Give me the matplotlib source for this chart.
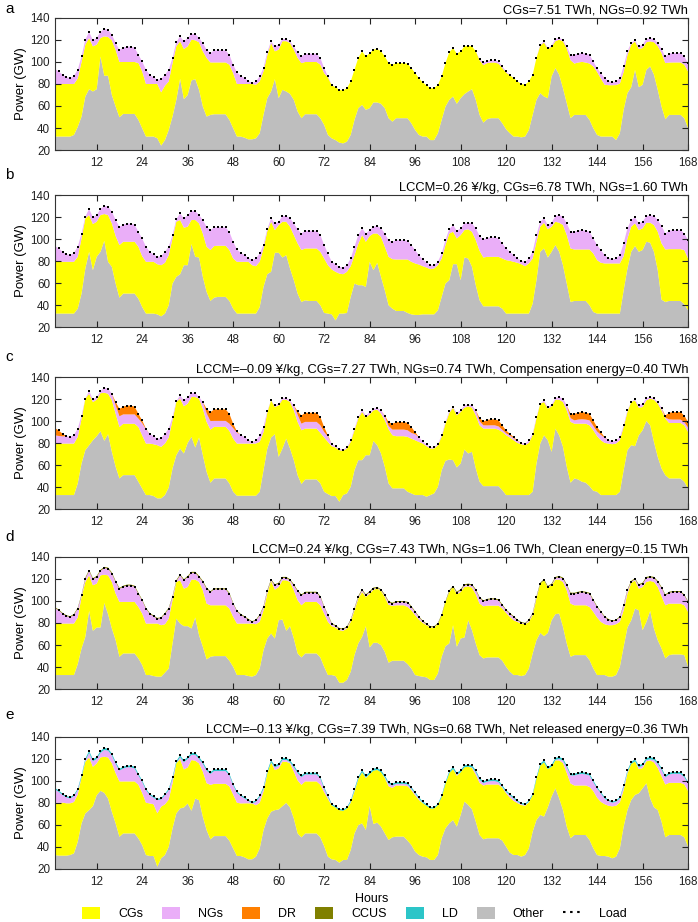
import matplotlib
matplotlib.use("Agg")
import matplotlib.pyplot as plt
from matplotlib.patches import Patch
from matplotlib.lines import Line2D
import numpy as np

plt.rcParams["font.family"] = ["Liberation Sans", "DejaVu Sans"]

hours = np.arange(1, 169)

# system load (GW), one row per day
load = [
    93.6, 91.4, 88.4, 86.3, 85.3, 87.5, 93.0, 105.0, 120.3, 127.3, 119.7, 121.8, 127.3, 130.0, 129.4, 124.9, 117.3, 111.0, 113.0, 114.0, 114.0, 113.0, 106.6, 100.5,
    93.0, 88.4, 86.0, 83.8, 84.4, 88.4, 93.0, 103.6, 118.0, 123.3, 118.8, 121.8, 125.5, 125.5, 121.8, 117.3, 111.0, 108.0, 110.6, 110.6, 110.6, 110.6, 106.6, 97.5,
    90.5, 87.5, 85.3, 83.0, 80.8, 82.3, 86.9, 94.5, 109.0, 118.8, 114.2, 115.7, 120.9, 120.9, 118.8, 114.2, 108.8, 105.0, 107.5, 107.5, 107.5, 107.5, 103.6, 94.5,
    86.9, 79.3, 77.1, 74.7, 74.1, 76.2, 82.3, 93.0, 103.6, 109.7, 105.0, 108.0, 111.2, 111.8, 109.7, 105.0, 99.0, 97.5, 99.0, 99.0, 99.0, 98.4, 94.5, 90.0,
    85.3, 81.4, 78.7, 76.2, 76.2, 79.3, 86.9, 99.0, 108.8, 112.7, 107.5, 109.7, 114.2, 114.8, 114.2, 109.7, 102.7, 99.6, 101.0, 101.5, 101.5, 100.5, 96.0, 91.4,
    88.4, 85.3, 82.3, 80.2, 79.3, 82.3, 88.4, 103.6, 115.7, 118.8, 112.7, 114.8, 120.9, 121.8, 120.3, 114.2, 106.6, 106.6, 107.5, 108.1, 107.5, 106.6, 100.5, 94.5,
    89.9, 85.3, 82.9, 81.4, 82.3, 85.3, 96.0, 109.7, 117.3, 119.7, 114.2, 115.7, 120.9, 121.5, 120.9, 117.3, 111.8, 105.0, 107.5, 108.1, 108.1, 108.1, 105.0, 99.0,
]

# panel a
other_a = [
    32.2, 32.2, 32.2, 32.2, 32.2, 33.7, 41.0, 50.4, 68.6, 75.3, 73.2, 75.3, 105.0, 87.5, 87.5, 70.0, 59.5, 49.8, 52.8, 52.8, 52.8, 52.8, 47.4, 39.8,
    32.2, 32.2, 32.2, 30.6, 24.0, 29.0, 38.2, 50.4, 65.6, 84.7, 66.2, 70.0, 83.2, 84.4, 74.7, 59.5, 50.4, 51.9, 52.5, 52.5, 52.5, 52.5, 47.4, 39.8,
    32.2, 32.2, 31.2, 29.7, 29.7, 30.6, 35.2, 51.9, 67.1, 73.2, 84.4, 67.1, 74.7, 73.2, 71.0, 65.6, 55.0, 48.9, 52.5, 52.5, 52.5, 52.5, 48.9, 42.8,
    33.7, 30.6, 29.0, 26.7, 26.0, 27.6, 33.7, 47.4, 58.0, 61.0, 56.5, 58.0, 63.2, 63.2, 62.0, 58.0, 48.9, 45.8, 48.9, 48.9, 48.9, 48.9, 44.3, 38.2,
    33.7, 32.2, 32.2, 29.0, 29.0, 35.2, 47.4, 59.5, 65.6, 68.6, 62.0, 67.1, 70.8, 73.2, 75.3, 65.6, 51.9, 44.9, 48.0, 48.9, 48.9, 48.9, 44.3, 38.8,
    35.2, 32.2, 32.2, 31.5, 32.2, 38.2, 51.9, 65.6, 71.7, 68.6, 67.1, 86.9, 94.5, 88.4, 76.2, 62.6, 48.9, 51.9, 51.9, 51.9, 51.9, 47.4, 39.8, 33.7,
    32.2, 32.2, 32.2, 32.2, 29.0, 35.2, 56.5, 71.7, 77.1, 92.9, 77.1, 79.3, 92.9, 96.0, 88.4, 74.7, 59.5, 48.0, 51.9, 51.9, 51.9, 51.9, 48.9, 39.8,
]
ngs_a = [
    13.6, 11.4, 8.4, 6.3, 5.3, 7.5, 8.0, 5.0, 4.6, 5.5, 5.5, 6.0, 5.5, 6.7, 6.7, 5.2, 6.3, 11.0, 13.0, 14.0, 14.0, 13.0, 7.6, 9.0,
    13.0, 8.4, 6.0, 3.8, 12.0, 10.0, 10.7, 4.6, 3.8, 4.5, 7.0, 7.6, 5.2, 5.8, 3.9, 7.6, 7.4, 8.4, 11.0, 11.0, 11.0, 11.0, 9.0, 7.6,
    10.5, 7.5, 5.3, 3.0, 0.8, 3.0, 4.6, 3.0, 3.0, 1.5, 4.5, 4.5, 2.0, 2.0, 1.5, 3.0, 5.0, 6.0, 7.5, 7.5, 7.5, 7.5, 6.0, 4.6,
    1.0, 0.5, 0.0, 0.0, 0.0, 0.0, 0.0, 0.0, 0.0, 0.0, 0.0, 0.0, 0.0, 0.0, 0.0, 0.0, 0.0, 0.0, 0.0, 0.0, 0.0, 0.0, 0.0, 0.0,
    0.0, 0.0, 0.0, 0.0, 0.0, 0.0, 0.0, 0.0, 0.0, 0.0, 0.0, 0.0, 0.0, 0.0, 0.0, 0.0, 1.0, 2.5, 2.0, 2.0, 2.0, 2.0, 1.5, 1.0,
    0.5, 0.0, 0.0, 0.0, 0.0, 0.0, 0.0, 0.0, 1.0, 1.0, 1.0, 1.0, 2.0, 1.5, 1.5, 2.0, 5.0, 8.0, 8.0, 8.0, 8.0, 8.0, 4.5, 3.5,
    5.0, 6.0, 4.0, 2.5, 3.3, 5.0, 5.0, 3.5, 1.6, 1.0, 2.4, 3.0, 3.0, 2.7, 3.0, 3.0, 3.7, 6.0, 8.0, 8.5, 8.5, 8.5, 7.5, 7.6,
]

# panel b
other_b = [
    32.2, 32.2, 32.2, 32.2, 32.2, 32.2, 36.7, 50.4, 73.2, 88.4, 71.7, 83.8, 88.4, 98.4, 79.3, 74.7, 59.5, 46.7, 50.4, 50.4, 50.4, 50.4, 45.8, 38.2,
    32.2, 32.2, 32.2, 31.5, 29.7, 32.2, 39.8, 59.5, 65.6, 68.0, 76.2, 76.2, 95.4, 83.8, 83.2, 65.6, 51.9, 43.7, 46.7, 47.4, 47.4, 47.4, 43.7, 36.7,
    32.2, 32.2, 32.2, 32.2, 32.2, 32.2, 38.2, 56.5, 68.0, 70.2, 87.5, 87.5, 83.2, 85.3, 73.2, 62.6, 50.4, 42.8, 44.3, 43.7, 43.7, 43.7, 39.8, 32.8,
    32.2, 31.5, 26.0, 32.2, 32.2, 32.8, 47.4, 59.5, 58.0, 58.0, 56.5, 79.3, 71.7, 78.4, 65.6, 53.4, 39.8, 36.7, 34.6, 34.6, 34.6, 32.8, 31.5, 31.0,
    31.0, 31.5, 31.5, 31.5, 31.5, 35.2, 47.4, 59.5, 62.6, 77.1, 77.1, 62.6, 83.2, 82.3, 74.7, 58.0, 44.3, 38.8, 38.8, 38.8, 38.8, 38.8, 36.7, 32.2,
    32.2, 32.2, 32.2, 32.2, 32.2, 32.2, 41.3, 62.6, 88.4, 91.4, 83.2, 88.4, 94.5, 88.4, 76.2, 59.5, 42.8, 43.7, 43.7, 43.7, 43.7, 39.8, 33.7, 32.2,
    32.2, 32.2, 32.2, 32.2, 32.2, 32.2, 53.4, 73.2, 88.4, 93.6, 88.4, 90.0, 97.5, 96.6, 88.4, 71.7, 44.9, 42.8, 43.7, 43.7, 43.7, 43.7, 40.7, 35.2,
]
ngs_b = [
    14.3, 12.1, 9.1, 7.0, 6.0, 8.2, 9.2, 4.5, 1.5, 5.5, 6.1, 6.1, 5.5, 7.3, 7.6, 10.7, 14.6, 16.5, 15.5, 16.5, 16.5, 15.5, 13.6, 16.1,
    13.7, 9.1, 6.7, 6.7, 8.2, 10.0, 7.7, 3.1, 2.3, 6.0, 8.5, 10.6, 8.2, 8.2, 7.6, 12.3, 18.0, 18.0, 17.0, 16.7, 16.7, 16.7, 16.6, 15.2,
    11.2, 8.2, 6.0, 3.7, 4.6, 7.0, 7.6, 3.1, 2.0, 3.1, 6.1, 3.0, 5.2, 5.2, 7.6, 10.6, 12.8, 15.0, 16.1, 16.1, 16.1, 16.1, 15.2, 12.2,
    10.7, 7.0, 6.9, 6.1, 6.1, 6.0, 7.0, 7.7, 8.0, 6.1, 7.5, 5.3, 6.2, 6.8, 7.7, 12.0, 15.2, 15.8, 17.6, 17.6, 17.6, 17.0, 15.2, 12.2,
    8.5, 6.1, 4.6, 3.6, 3.0, 3.1, 4.6, 4.5, 3.8, 6.1, 7.0, 6.1, 6.1, 6.0, 7.6, 10.7, 13.4, 16.4, 17.2, 17.7, 17.7, 16.7, 13.7, 10.6,
    8.2, 6.0, 3.9, 3.1, 4.0, 4.5, 6.1, 6.1, 4.5, 4.0, 3.9, 3.6, 5.2, 7.0, 7.6, 10.6, 15.2, 16.1, 17.0, 17.6, 17.0, 16.1, 13.6, 13.7,
    11.5, 7.5, 5.1, 3.6, 4.5, 7.5, 11.6, 9.2, 6.1, 5.5, 6.1, 6.0, 6.1, 6.7, 8.2, 10.7, 15.8, 14.5, 16.7, 17.3, 17.3, 17.3, 15.1, 16.7,
]

# panel c
other_c = [
    32.7, 32.7, 32.7, 32.7, 32.7, 32.7, 43.3, 61.4, 73.5, 78.0, 82.5, 86.2, 90.7, 82.0, 88.0, 72.0, 58.4, 47.8, 50.8, 50.8, 50.8, 50.8, 44.8, 38.7,
    32.7, 32.7, 31.8, 29.7, 29.7, 32.7, 39.6, 56.9, 69.0, 75.0, 70.5, 80.1, 85.6, 75.9, 85.0, 69.0, 53.8, 43.9, 47.8, 47.8, 47.8, 47.8, 43.3, 35.7,
    32.1, 32.1, 32.1, 32.1, 32.1, 32.1, 35.7, 55.3, 75.0, 85.0, 88.0, 67.4, 75.0, 84.0, 75.0, 64.4, 50.8, 42.7, 46.9, 46.9, 46.9, 46.9, 43.3, 35.7,
    33.6, 31.8, 31.8, 26.6, 32.7, 34.2, 40.2, 55.3, 64.4, 64.4, 68.9, 68.9, 81.9, 78.0, 70.5, 58.4, 43.3, 38.8, 38.8, 38.8, 38.8, 35.7, 34.2, 32.7,
    32.7, 32.7, 31.2, 32.7, 34.2, 40.2, 55.3, 63.8, 65.0, 64.4, 57.8, 61.4, 74.1, 70.5, 72.0, 56.9, 44.8, 40.8, 40.8, 40.8, 40.8, 40.8, 37.2, 32.7,
    32.7, 32.7, 32.7, 32.7, 32.7, 32.7, 35.7, 61.4, 79.5, 87.0, 82.5, 72.0, 93.1, 87.0, 76.5, 58.4, 43.9, 47.8, 46.9, 44.8, 43.9, 40.8, 36.6, 35.7,
    32.7, 32.7, 32.7, 32.7, 32.7, 35.7, 55.3, 73.5, 78.0, 77.1, 87.0, 91.6, 100.0, 96.1, 81.0, 67.4, 56.9, 50.8, 47.8, 47.8, 47.8, 47.8, 44.8, 38.7,
]
ngs_c = [
    7.5, 7.0, 6.5, 6.8, 5.8, 8.0, 7.4, 3.0, 0.0, 2.5, 2.4, 2.4, 2.0, 4.3, 4.6, 6.0, 7.6, 9.7, 8.5, 8.5, 8.5, 8.5, 7.6, 11.0,
    13.0, 8.9, 7.1, 5.8, 7.9, 8.9, 8.0, 2.9, 0.7, 3.0, 5.4, 6.0, 3.7, 3.7, 1.5, 6.1, 7.8, 7.8, 5.4, 5.4, 5.4, 5.4, 6.6, 9.5,
    10.0, 8.0, 5.8, 3.5, 1.3, 2.8, 5.9, 4.5, 1.3, 0.0, 1.5, 1.4, 1.5, 1.5, 1.5, 4.5, 6.6, 6.0, 6.1, 6.1, 6.1, 6.1, 6.9, 5.0,
    4.9, 2.2, 1.2, 1.2, 1.2, 1.2, 1.3, 1.4, 1.4, 1.5, 1.9, 1.9, 1.5, 1.5, 3.0, 3.8, 3.0, 5.1, 6.0, 6.0, 6.0, 6.0, 5.2, 5.5,
    4.3, 1.9, 1.6, 1.2, 1.2, 1.3, 1.3, 1.4, 1.5, 0.6, 2.3, 1.5, 2.1, 1.4, 2.1, 4.5, 3.6, 3.0, 2.9, 3.0, 3.0, 3.0, 1.9, 1.8,
    1.9, 1.8, 1.7, 1.3, 1.3, 2.2, 1.3, 1.4, 0.0, 1.5, 1.5, 1.4, 1.5, 2.4, 3.0, 4.5, 3.4, 3.0, 3.7, 4.0, 3.7, 4.5, 3.9, 4.3,
    4.9, 4.7, 3.4, 2.5, 2.8, 2.8, 1.4, 1.5, 0.0, 0.9, 2.1, 3.0, 2.1, 1.2, 1.5, 1.5, 2.1, 0.8, 3.3, 3.1, 3.1, 3.1, 2.9, 3.9,
]
dr_c = [
    6.6, 5.0, 2.4, 0, 0, 0, 0, 0, 0, 0, 0, 0, 0, 0, 0, 0, 3.0, 6.7, 7.0, 8.0, 8.0, 7.0, 4.4, 2.5,
    0.5, 0, 0, 0, 0, 0, 0, 0, 0, 0, 0, 0, 0, 0, 0, 0, 4.0, 8.0, 10.5, 10.5, 10.5, 10.5, 9.0, 4.0,
    1.0, 0, 0, 0, 0, 0, 0, 0, 0, 0, 0, 0, 0, 0, 0, 0, 3.0, 7.4, 8.3, 8.3, 8.3, 8.3, 7.5, 4.5,
    1.0, 0, 0, 0, 0, 0, 0, 0, 0, 0, 0, 0, 0, 0, 0, 0.5, 3.5, 5.3, 6.8, 6.8, 6.8, 6.8, 5.3, 2.0,
    0, 0, 0, 0, 0, 0, 0, 0, 0, 0, 0, 0, 0, 0, 0, 0, 3.0, 3.5, 5.0, 5.4, 5.4, 5.4, 4.0, 2.5,
    1.5, 1.0, 0.5, 0, 0, 0, 0, 0, 0, 0, 0, 0, 0, 0, 0, 0, 4.0, 6.0, 6.2, 6.5, 6.2, 6.0, 5.0, 4.0,
    2.5, 0.5, 0, 0, 0, 0, 0, 0, 0, 0, 0, 0, 0, 0, 0, 0, 0, 2.0, 6.0, 6.8, 6.8, 6.8, 6.0, 5.0,
]

# panel d
other_d = [
    32.7, 32.7, 32.7, 32.7, 32.7, 32.7, 42.7, 56.9, 67.4, 91.0, 72.9, 75.9, 75.9, 98.2, 88.0, 75.0, 64.4, 49.3, 52.3, 52.3, 52.3, 52.3, 47.8, 41.8,
    32.7, 32.7, 31.8, 31.2, 31.2, 34.8, 38.7, 61.4, 84.0, 79.5, 77.1, 77.1, 75.0, 85.0, 68.9, 58.4, 46.9, 49.3, 49.9, 49.9, 49.9, 49.9, 45.7, 40.2,
    32.7, 32.7, 32.7, 31.8, 31.2, 32.7, 38.7, 55.3, 65.9, 70.5, 65.9, 82.5, 83.1, 72.9, 77.1, 65.9, 52.3, 48.7, 52.3, 52.3, 52.3, 52.3, 48.7, 40.2,
    32.7, 32.7, 31.8, 25.7, 25.7, 28.2, 35.7, 50.8, 61.4, 67.4, 77.1, 57.8, 62.0, 62.0, 59.9, 53.8, 43.9, 45.7, 45.7, 45.7, 45.7, 42.7, 38.7, 32.7,
    31.8, 31.2, 30.6, 28.2, 28.2, 34.2, 49.3, 59.0, 61.4, 78.0, 58.4, 65.9, 66.8, 82.5, 73.5, 61.4, 50.8, 47.8, 48.7, 48.7, 48.7, 48.7, 45.7, 40.2,
    35.7, 32.7, 32.7, 31.8, 32.7, 38.7, 52.3, 64.4, 71.0, 68.0, 71.0, 82.5, 88.0, 88.6, 76.5, 61.4, 49.3, 50.8, 50.8, 50.8, 50.8, 46.3, 38.7, 32.7,
    32.7, 32.7, 31.2, 31.2, 32.7, 40.2, 58.4, 75.9, 82.5, 93.1, 91.6, 73.5, 81.0, 91.0, 75.0, 64.4, 56.9, 47.8, 50.8, 51.4, 51.4, 51.4, 50.8, 40.2,
]
ngs_d = [
    14.1, 11.9, 8.9, 6.8, 5.8, 8.0, 8.0, 1.3, 3.0, 4.0, 5.4, 6.0, 4.0, 6.1, 6.1, 7.6, 10.6, 11.8, 13.8, 14.8, 14.8, 13.8, 12.0, 11.9,
    13.5, 8.9, 6.5, 4.3, 6.4, 9.5, 9.0, 2.9, 0.7, 4.5, 7.6, 9.1, 6.1, 6.1, 4.5, 7.6, 13.4, 11.9, 14.5, 14.5, 14.5, 14.5, 13.5, 11.9,
    11.0, 8.0, 5.8, 3.5, 1.3, 3.4, 5.9, 2.9, 2.3, 0.6, 3.9, 3.0, 2.1, 2.1, 1.5, 4.5, 8.1, 8.9, 8.3, 8.3, 8.3, 8.3, 7.5, 5.9,
    5.9, 2.2, 1.2, 1.2, 1.2, 1.2, 1.3, 1.4, 1.4, 1.5, 1.3, 1.3, 0.9, 0.6, 0.6, 1.3, 2.5, 2.0, 2.9, 2.9, 2.9, 3.8, 2.9, 2.9,
    2.2, 1.3, 0.7, 0.3, 0.3, 0.4, 0.0, 0.0, 0.6, 0.0, 1.4, 1.5, 1.5, 1.4, 2.1, 3.6, 5.1, 4.4, 5.2, 5.7, 5.7, 4.7, 2.9, 2.2,
    2.8, 2.8, 1.3, 0.7, 0.4, 1.3, 1.3, 1.4, 0.0, 0.0, 0.6, 0.5, 1.5, 2.4, 3.0, 4.5, 9.0, 10.5, 11.4, 12.0, 11.4, 12.0, 10.4, 9.5,
    8.9, 6.4, 4.9, 3.4, 3.4, 4.3, 4.4, 3.0, 0.9, 0.9, 3.0, 3.0, 3.6, 3.3, 3.6, 4.6, 7.5, 8.9, 9.9, 10.5, 10.5, 10.5, 8.9, 8.9,
]
ccus_d = [
    0.8, 0.8, 0.8, 0.8, 0.8, 0.8, 0.9, 0.9, 1.0, 1.0, 1.0, 1.0, 1.0, 1.0, 1.0, 1.0, 1.0, 0.9, 0.9, 0.9, 0.9, 0.9, 0.9, 0.8,
    0.8, 0.8, 0.8, 0.8, 0.8, 0.8, 0.9, 0.9, 1.0, 1.0, 1.0, 1.0, 1.0, 1.0, 1.0, 1.0, 1.0, 0.9, 0.9, 0.9, 0.9, 0.9, 0.9, 0.8,
    0.8, 0.8, 0.8, 0.8, 0.8, 0.8, 0.9, 0.9, 1.0, 1.0, 1.0, 1.0, 1.0, 1.0, 1.0, 1.0, 1.0, 0.9, 0.9, 0.9, 0.9, 0.9, 0.9, 0.8,
    0.8, 0.8, 0.8, 0.8, 0.8, 0.8, 0.9, 0.9, 1.0, 1.0, 1.0, 1.0, 1.0, 1.0, 1.0, 1.0, 1.0, 0.9, 0.9, 0.9, 0.9, 0.9, 0.9, 0.8,
    0.8, 0.8, 0.8, 0.8, 0.8, 0.8, 0.9, 0.9, 1.0, 1.0, 1.0, 1.0, 1.0, 1.0, 1.0, 1.0, 1.0, 0.9, 0.9, 0.9, 0.9, 0.9, 0.9, 0.8,
    0.8, 0.8, 0.8, 0.8, 0.8, 0.8, 0.9, 0.9, 1.0, 1.0, 1.0, 1.0, 1.0, 1.0, 1.0, 1.0, 1.0, 0.9, 0.9, 0.9, 0.9, 0.9, 0.9, 0.8,
    0.8, 0.8, 0.8, 0.8, 0.8, 0.8, 0.9, 0.9, 1.0, 1.0, 1.0, 1.0, 1.0, 1.0, 1.0, 1.0, 1.0, 0.9, 0.9, 0.9, 0.9, 0.9, 0.9, 0.8,
]

# panel e
other_e = [
    32.7, 32.1, 32.1, 32.1, 32.7, 34.2, 44.8, 61.4, 70.5, 73.5, 77.1, 87.1, 91.0, 89.2, 84.0, 72.0, 61.4, 49.3, 52.3, 52.3, 52.3, 52.3, 47.8, 41.8,
    32.7, 31.8, 31.8, 22.1, 29.7, 32.7, 40.2, 56.9, 70.5, 75.0, 75.9, 79.5, 72.9, 84.0, 82.5, 67.4, 55.3, 46.9, 49.9, 49.9, 49.9, 49.9, 45.7, 38.7,
    31.8, 31.8, 30.6, 28.8, 28.8, 31.2, 38.7, 55.3, 65.9, 72.0, 73.5, 74.1, 77.1, 80.1, 75.9, 65.9, 52.3, 48.7, 52.3, 52.3, 52.3, 52.3, 48.7, 40.8,
    31.2, 28.8, 28.2, 25.7, 28.2, 28.2, 37.2, 52.3, 59.9, 61.5, 55.5, 77.3, 60.9, 62.1, 58.5, 52.4, 46.4, 48.8, 49.4, 49.4, 49.4, 45.8, 41.8, 35.8,
    32.7, 31.2, 30.6, 28.2, 28.2, 32.7, 47.9, 57.0, 61.5, 64.5, 58.5, 69.1, 81.2, 78.2, 74.2, 63.0, 50.9, 47.0, 47.9, 47.9, 47.9, 47.9, 45.8, 40.3,
    34.8, 32.7, 32.7, 31.2, 32.7, 38.8, 53.9, 64.5, 69.1, 67.6, 76.1, 85.8, 93.3, 84.2, 73.6, 58.5, 47.9, 50.9, 50.9, 50.9, 50.9, 46.4, 38.8, 32.7,
    31.8, 31.8, 31.2, 29.7, 31.2, 38.8, 58.5, 73.6, 82.7, 87.3, 88.8, 93.3, 97.9, 84.2, 76.1, 73.6, 63.0, 48.8, 50.9, 50.9, 50.9, 50.9, 48.8, 40.3,
]
ngs_e = [
    12.1, 9.9, 6.9, 5.4, 4.4, 5.4, 3.9, 0.0, 1.0, 4.1, 5.0, 4.0, 4.1, 6.2, 6.2, 7.1, 8.6, 9.8, 11.8, 12.8, 12.8, 11.8, 8.5, 9.9,
    11.5, 7.5, 6.0, 12.0, 6.5, 8.4, 8.5, 4.0, 0.0, 1.9, 6.5, 7.7, 4.7, 5.3, 4.0, 7.1, 11.4, 9.9, 11.6, 11.6, 11.6, 11.6, 10.0, 8.4,
    9.0, 6.6, 4.4, 2.1, 0.0, 3.2, 5.4, 2.4, 0.3, 0.0, 2.5, 2.5, 1.6, 1.6, 1.0, 4.0, 6.7, 6.9, 6.3, 6.3, 6.3, 6.3, 5.5, 3.3,
    2.0, 0.2, 0.0, 0.0, 0.0, 0.0, 0.8, 0.9, 0.3, 0.1, 0.6, 0.0, 0.0, 0.0, 0.0, 0.6, 2.2, 2.2, 1.5, 1.5, 1.5, 1.6, 1.3, 1.6,
    1.2, 0.3, 0.0, 0.0, 0.0, 0.0, 0.0, 0.0, 0.0, 0.0, 1.0, 0.1, 0.0, 0.0, 0.7, 2.2, 2.8, 2.1, 2.6, 3.1, 3.1, 2.1, 0.7, 1.2,
    2.2, 2.1, 1.2, 0.9, 0.6, 0.6, 0.0, 0.1, 0.0, 0.0, 0.1, 0.0, 0.4, 1.3, 2.2, 5.2, 7.3, 9.1, 10.0, 10.6, 10.0, 10.4, 8.2, 8.3,
    7.6, 5.1, 4.2, 3.3, 3.6, 3.6, 2.8, 1.3, 0.0, 0.1, 1.6, 2.2, 1.3, 1.0, 2.2, 3.8, 5.9, 6.6, 7.6, 8.2, 8.2, 8.2, 6.6, 6.7,
]
ld_e = [
    1.3, 1.3, 1.2, 1.2, 1.2, 1.2, 1.4, 1.6, 1.8, 1.8, 1.8, 1.8, 1.8, 1.8, 1.8, 1.7, 1.6, 1.6, 1.6, 1.6, 1.6, 1.6, 1.5, 1.4,
    1.3, 1.3, 1.2, 1.2, 1.2, 1.2, 1.4, 1.6, 1.8, 1.8, 1.8, 1.8, 1.8, 1.8, 1.8, 1.7, 1.6, 1.6, 1.6, 1.6, 1.6, 1.6, 1.5, 1.4,
    1.3, 1.3, 1.2, 1.2, 1.2, 1.2, 1.4, 1.6, 1.8, 1.8, 1.8, 1.8, 1.8, 1.8, 1.8, 1.7, 1.6, 1.6, 1.6, 1.6, 1.6, 1.6, 1.5, 1.4,
    1.3, 1.3, 1.2, 1.2, 1.2, 1.2, 1.4, 1.6, 1.8, 1.8, 1.8, 1.8, 1.8, 1.8, 1.8, 1.7, 1.6, 1.6, 1.6, 1.6, 1.6, 1.6, 1.5, 1.4,
    1.3, 1.3, 1.2, 1.2, 1.2, 1.2, 1.4, 1.6, 1.8, 1.8, 1.8, 1.8, 1.8, 1.8, 1.8, 1.7, 1.6, 1.6, 1.6, 1.6, 1.6, 1.6, 1.5, 1.4,
    1.3, 1.3, 1.2, 1.2, 1.2, 1.2, 1.4, 1.6, 1.8, 1.8, 1.8, 1.8, 1.8, 1.8, 1.8, 1.7, 1.6, 1.6, 1.6, 1.6, 1.6, 1.6, 1.5, 1.4,
    1.3, 1.3, 1.2, 1.2, 1.2, 1.2, 1.4, 1.6, 1.8, 1.8, 1.8, 1.8, 1.8, 1.8, 1.8, 1.7, 1.6, 1.6, 1.6, 1.6, 1.6, 1.6, 1.5, 1.4,
]

titles = [
    "CGs=7.51 TWh, NGs=0.92 TWh",
    "LCCM=0.26 ¥/kg, CGs=6.78 TWh, NGs=1.60 TWh",
    "LCCM=\u20130.09 ¥/kg, CGs=7.27 TWh, NGs=0.74 TWh, Compensation energy=0.40 TWh",
    "LCCM=0.24 ¥/kg, CGs=7.43 TWh, NGs=1.06 TWh, Clean energy=0.15 TWh",
    "LCCM=\u20130.13 ¥/kg, CGs=7.39 TWh, NGs=0.68 TWh, Net released energy=0.36 TWh",
]
letters = ["a", "b", "c", "d", "e"]
series_names = ["CGs", "NGs", "DR", "CCUS", "LD", "Other"]
series_colors = ["#ffff00", "#eaaef8", "#ff7f00", "#808000", "#2cc5c8", "#bebebe"]
xticks = list(range(12, 169, 12))
yticks = list(range(20, 141, 20))

zeros = [0.0] * 168
panels = [
    (other_a, ngs_a, zeros, zeros, zeros),
    (other_b, ngs_b, zeros, zeros, zeros),
    (other_c, ngs_c, dr_c, zeros, zeros),
    (other_d, ngs_d, zeros, ccus_d, zeros),
    (other_e, ngs_e, zeros, zeros, ld_e),
]

fig = plt.figure(figsize=(6.98, 9.22), dpi=100)
bottoms = [0.8373, 0.6453, 0.4479, 0.2527, 0.0575]
letter_y = [0.990, 0.810, 0.613, 0.4176, 0.2245]
col = dict(zip(series_names, series_colors))

for i, (other, ngs, dr, ccus, ld) in enumerate(panels):
    ax = fig.add_axes([0.0788, bottoms[i], 0.907, 0.1432])
    L = np.array(load)
    o = np.array(other)
    n = np.array(ngs)
    d = np.array(dr)
    c = np.array(ccus)
    l = np.array(ld)
    cgs = np.clip(L - o - n - d - l, 0, None)  # coal units take the rest of the load
    ax.stackplot(hours, o, cgs, n, d, l, c,
                 colors=[col["Other"], col["CGs"], col["NGs"], col["DR"], col["LD"], col["CCUS"]],
                 linewidth=0)
    ax.plot(hours, load, ls="none", marker="s", ms=1.6, mew=0, color="k")
    ax.set_xlim(1, 168)
    ax.set_ylim(20, 140)
    ax.set_xticks(xticks)
    ax.set_yticks(yticks)
    ax.tick_params(direction="in", top=True, right=True, length=4, width=0.8,
                   labelsize=8.4, colors="#222222")
    ax.tick_params(axis="x", pad=5)
    for s in ax.spines.values():
        s.set_linewidth(0.8)
        s.set_color("#333333")
    ax.set_ylabel("Power (GW)", fontsize=9.5)
    ax.yaxis.set_label_coords(-0.045, 0.5)
    ax.set_title(titles[i], loc="right", fontsize=9.3, pad=3)
    fig.text(0.007, letter_y[i], letters[i], fontsize=11, va="center")

fig.text(0.532, 0.025, "Hours", ha="center", va="center", fontsize=9)

handles = [Patch(facecolor=c, edgecolor="none") for c in series_colors]
handles.append(Line2D([0], [0], color="k", ls=(0, (1.2, 2.2)), lw=1.5))
fig.legend(handles, series_names + ["Load"], loc="lower center", bbox_to_anchor=(0.508, -0.006),
           ncol=7, frameon=False, fontsize=9, handlelength=1.45, handleheight=1.1,
           handletextpad=1.45, columnspacing=1.5, borderpad=0.1)

fig.savefig("out.png", dpi=100)
